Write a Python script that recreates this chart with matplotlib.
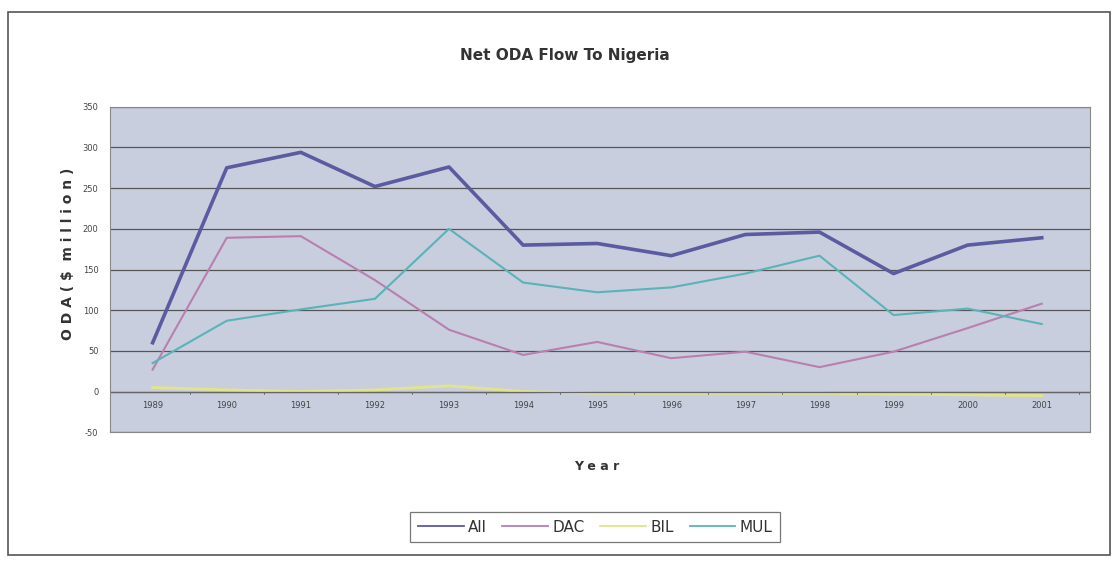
import matplotlib
matplotlib.use("Agg")
import matplotlib.pyplot as plt
from matplotlib.patches import Rectangle

# values ($ million)
years = ["1989", "1990", "1991", "1992", "1993", "1994", "1995",
         "1996", "1997", "1998", "1999", "2000", "2001"]
all_oda = [60, 275, 294, 252, 276, 180, 182, 167, 193, 196, 145, 180, 189]
dac = [27, 189, 191, 137, 76, 45, 61, 41, 49, 30, 49, 78, 108]
bil = [5, 2, 0, 2, 7, 0, -2, -2, -2, -2, -3, -4, -5]
mul = [35, 87, 101, 114, 200, 134, 122, 128, 145, 167, 94, 102, 83]
yticks = [-50, 0, 50, 100, 150, 200, 250, 300, 350]

fig = plt.figure(figsize=(11.19, 5.71), dpi=100)
fig.patch.set_facecolor("white")

# outer frame of the chart
fig.patches.append(Rectangle((8 / 1119, 1 - 555 / 571), 1102 / 1119, 543 / 571,
                             transform=fig.transFigure, fill=False,
                             edgecolor="#555555", linewidth=1.2))

ax = fig.add_axes([0.098, 0.243, 0.876, 0.570])
ax.set_facecolor("#c9cedf")

x = list(range(len(years)))
ax.plot(x, all_oda, color="#5b5ba0", linewidth=2.6, label="All")
ax.plot(x, dac, color="#b87fb0", linewidth=1.5, label="DAC")
ax.plot(x, bil, color="#e2e48a", linewidth=2.0, label="BIL")
ax.plot(x, mul, color="#5ab3b8", linewidth=1.5, label="MUL")

ax.set_ylim(-50, 350)
ax.set_xlim(-0.58, 12.65)
ax.set_yticks(yticks)
ax.set_yticklabels([str(v) for v in yticks], fontsize=6, color="#444444")
ax.yaxis.grid(True, color="#555555", linewidth=0.9)
ax.set_axisbelow(True)
ax.tick_params(axis="y", length=0, pad=8)

# category axis crosses at zero, labels sit just under it
ax.axhline(0, color="#666666", linewidth=0.9)
ax.set_xticks([])
for i, yr in enumerate(years):
    ax.text(i, -12, yr, ha="center", va="top", fontsize=6, color="#444444")
    ax.plot([i + 0.5, i + 0.5], [0, -2.5], color="#666666", linewidth=0.6)

for side in ["top", "right", "bottom", "left"]:
    ax.spines[side].set_color("#888888")
    ax.spines[side].set_linewidth(0.8)

fig.text(0.505, 0.902, "Net ODA Flow To Nigeria", ha="center", va="center",
         fontsize=11, fontweight="bold", color="#333333")
fig.text(0.061, 0.555, "O D A ( $  m i l l i o n )", ha="center", va="center",
         rotation=90, fontsize=10, fontweight="bold", color="#333333")
fig.text(0.533, 0.183, "Y e a r", ha="center", va="center",
         fontsize=9, fontweight="bold", color="#333333")

leg = fig.legend(loc="center", bbox_to_anchor=(0.532, 0.077), ncol=4,
                 fontsize=11, frameon=True, fancybox=False,
                 handlelength=3.0, columnspacing=1.0, handletextpad=0.3,
                 borderpad=0.5)
leg.get_frame().set_edgecolor("#555555")
leg.get_frame().set_linewidth(0.9)
for line in leg.get_lines():
    line.set_linewidth(1.3)
for t in leg.get_texts():
    t.set_color("#333333")

fig.savefig("out.png", dpi=100)
